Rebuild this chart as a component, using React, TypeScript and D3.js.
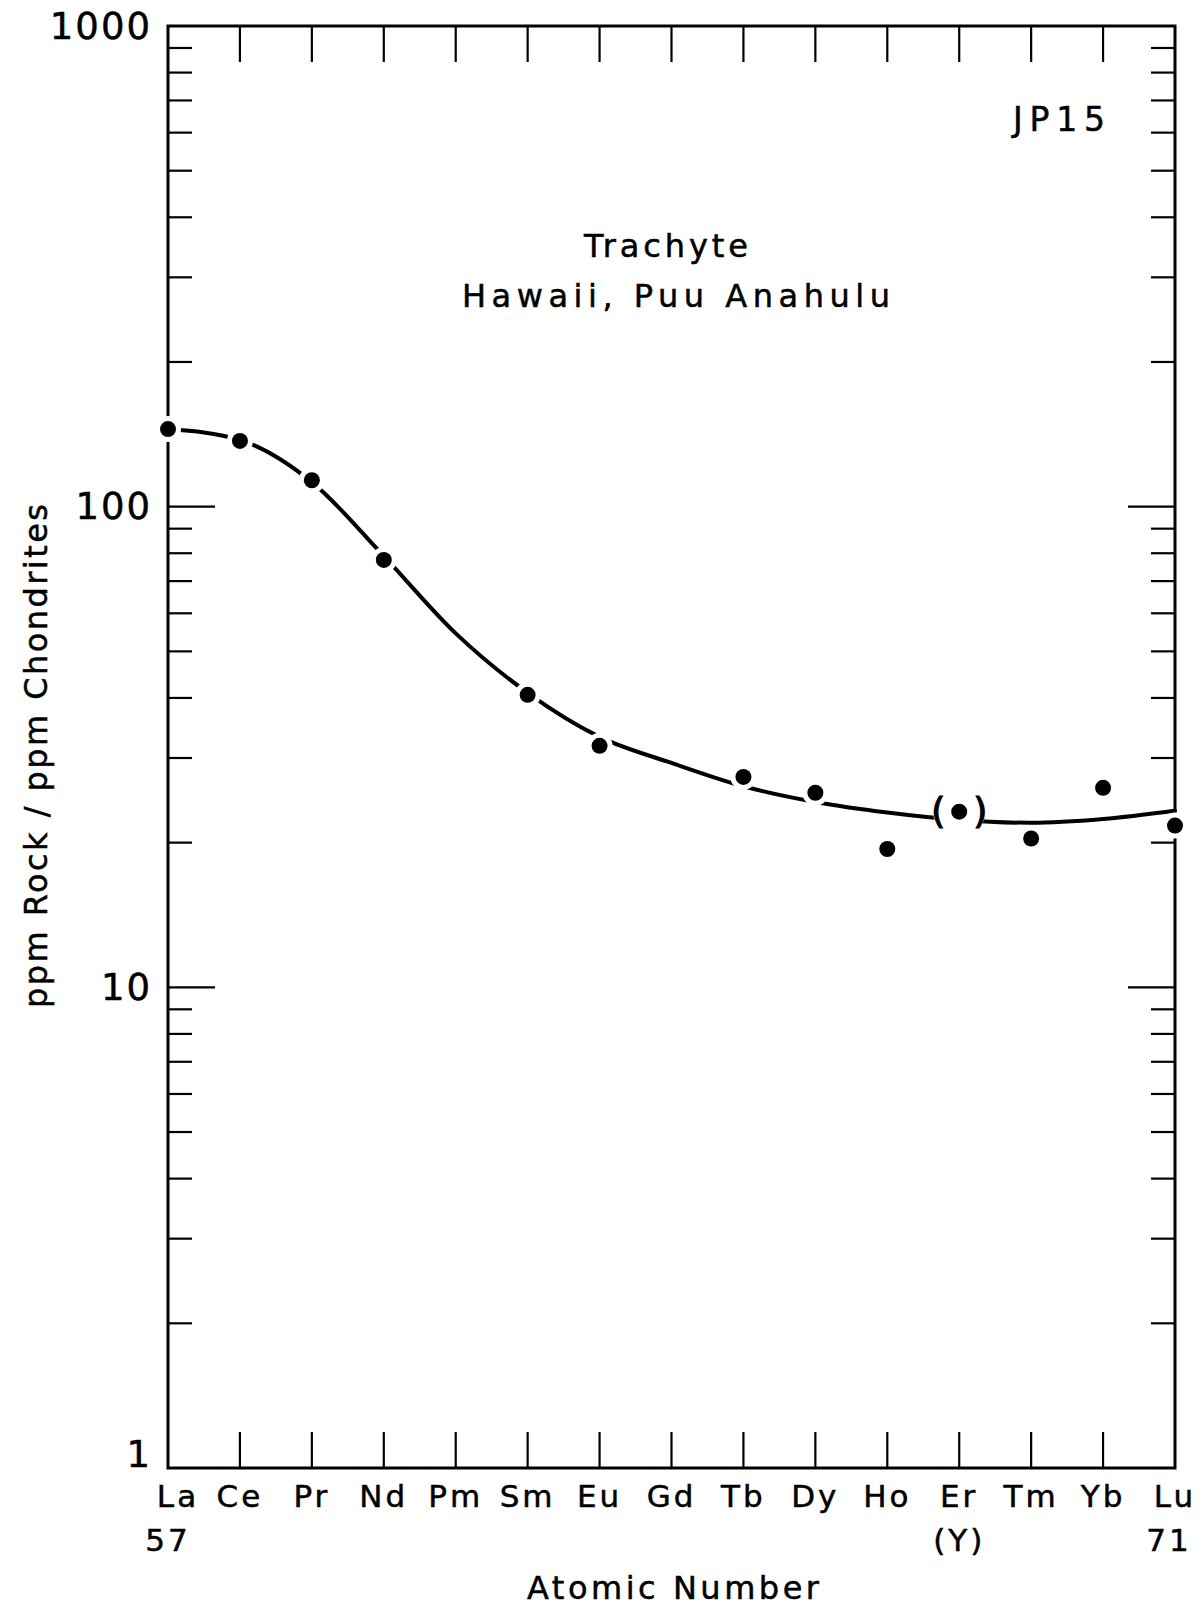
import React from "react";
import * as d3 from "d3";

const elements = ["La", "Ce", "Pr", "Nd", "Pm", "Sm", "Eu", "Gd", "Tb", "Dy", "Ho", "Er", "Tm", "Yb", "Lu"];
const atomicNumbers = [57, 58, 59, 60, 61, 62, 63, 64, 65, 66, 67, 68, 69, 70, 71];

// measured points
const pointElements = ["La", "Ce", "Pr", "Nd", "Sm", "Eu", "Tb", "Dy", "Ho", "Er", "Tm", "Yb", "Lu"];
const pointValues = [145, 137, 113.5, 77.5, 40.6, 31.8, 27.4, 25.4, 19.4, 23.2, 20.4, 26.0, 21.7];
const pointOnCurve = [true, true, true, true, true, true, true, true, false, true, false, false, true];
const bracketedPoints = ["Er"];

// smoothed curve drawn through the data
const curveValues = [145, 137.6, 112.5, 78.9, 54.5, 41.0, 33.2, 29.3, 26.2, 24.3, 23.1, 22.3, 22.0, 22.4, 23.3];

const yMajorTicks = [1, 10, 100, 1000];
const yMajorLabels = ["1", "10", "100", "1000"];
const yMinorTicks = [2, 3, 4, 5, 6, 7, 8, 9, 20, 30, 40, 50, 60, 70, 80, 90, 200, 300, 400, 500, 600, 700, 800, 900];

const subLabels = [
  { el: "La", text: "57" },
  { el: "Er", text: "(Y)" },
  { el: "Lu", text: "71" },
];

const FONT = "'DejaVu Sans', sans-serif";

export default function App() {
  const left = 168, right = 1175, top = 26, bottom = 1468;
  const x = d3.scaleLinear().domain([57, 71]).range([left, right]);
  const y = d3.scaleLog().domain([1, 1000]).range([bottom, top]);
  const xOf = (el: string) => x(atomicNumbers[elements.indexOf(el)]);

  const line = d3
    .line<number>()
    .x((_, i) => x(atomicNumbers[i]))
    .y((d) => y(d))
    .curve(d3.curveMonotoneX);

  const majorLen = 47, minorLen = 24, xTickLen = 36;
  const txt = { stroke: "#000", strokeWidth: 0.5 };

  return (
    <svg
      width={1203}
      height={1612}
      style={{ position: "absolute", left: 0, top: 0, background: "#fff" }}
      fontFamily={FONT}
    >
      <rect x={0} y={0} width={1203} height={1612} fill="#fff" />
      {/* frame */}
      <rect x={left} y={top} width={right - left} height={bottom - top} fill="none" stroke="#000" strokeWidth={3} />
      {/* y ticks */}
      {yMajorTicks.slice(1, 3).map((v) => (
        <g key={"M" + v}>
          <line x1={left} x2={left + majorLen} y1={y(v)} y2={y(v)} stroke="#000" strokeWidth={2.2} />
          <line x1={right} x2={right - majorLen} y1={y(v)} y2={y(v)} stroke="#000" strokeWidth={2.2} />
        </g>
      ))}
      {yMinorTicks.map((v) => (
        <g key={"m" + v}>
          <line x1={left} x2={left + minorLen} y1={y(v)} y2={y(v)} stroke="#000" strokeWidth={2.2} />
          <line x1={right} x2={right - minorLen} y1={y(v)} y2={y(v)} stroke="#000" strokeWidth={2.2} />
        </g>
      ))}
      {/* x ticks */}
      {atomicNumbers.slice(1, -1).map((n) => (
        <g key={"x" + n}>
          <line x1={x(n)} x2={x(n)} y1={top} y2={top + xTickLen} stroke="#000" strokeWidth={2.2} />
          <line x1={x(n)} x2={x(n)} y1={bottom} y2={bottom - xTickLen} stroke="#000" strokeWidth={2.2} />
        </g>
      ))}
      {/* y labels */}
      {yMajorTicks.map((v, i) => (
        <text
          key={"yl" + v}
          x={152}
          y={v === 1 ? y(v) - 12 : y(v) + 2}
          textAnchor="end"
          dominantBaseline="middle"
          fontSize={37}
          letterSpacing={2}
          {...txt}
        >
          {yMajorLabels[i]}
        </text>
      ))}
      {/* curve */}
      <path d={line(curveValues) || ""} fill="none" stroke="#000" strokeWidth={4} strokeLinecap="round" />
      {/* halos */}
      {pointElements.map((el, i) =>
        pointOnCurve[i] ? (
          <circle
            key={"h" + el}
            cx={xOf(el)}
            cy={y(pointValues[i])}
            r={bracketedPoints.includes(el) ? 26 : 13}
            fill="#fff"
          />
        ) : null
      )}
      {/* points */}
      {pointElements.map((el, i) => (
        <circle key={"p" + el} cx={xOf(el)} cy={y(pointValues[i])} r={8} fill="#000" />
      ))}
      {bracketedPoints.map((el) => {
        const v = pointValues[pointElements.indexOf(el)];
        return (
          <g key={"b" + el}>
            <text x={xOf(el) - 21} y={y(v) + 1} textAnchor="middle" dominantBaseline="middle" fontSize={36} {...txt} strokeWidth={1.2}>(</text>
            <text x={xOf(el) + 21} y={y(v) + 1} textAnchor="middle" dominantBaseline="middle" fontSize={36} {...txt} strokeWidth={1.2}>)</text>
          </g>
        );
      })}
      {/* x labels */}
      {elements.map((el) => (
        <text key={"xl" + el} x={xOf(el) + (el === "La" ? 10 : 0)} y={1498} textAnchor="middle" dominantBaseline="middle" fontSize={31} letterSpacing={3} {...txt}>
          {el}
        </text>
      ))}
      {subLabels.map((s) => (
        <text key={"s" + s.el} x={xOf(s.el) + (s.el === "Lu" ? -6 : 0)} y={1542} textAnchor="middle" dominantBaseline="middle" fontSize={31} letterSpacing={3} {...txt}>
          {s.text}
        </text>
      ))}
      <text x={673} y={1590} textAnchor="middle" dominantBaseline="middle" fontSize={32} textLength={292} lengthAdjust="spacing" {...txt}>
        Atomic Number
      </text>
      <text
        transform={`translate(38,756) rotate(-90)`}
        textAnchor="middle"
        dominantBaseline="middle"
        fontSize={32}
        textLength={504}
        lengthAdjust="spacing"
        {...txt}
      >
        ppm Rock / ppm Chondrites
      </text>
      <text x={1013} y={121} dominantBaseline="middle" fontSize={33} textLength={92} lengthAdjust="spacing" {...txt}>
        JP15
      </text>
      <text x={666} y={248} textAnchor="middle" dominantBaseline="middle" fontSize={32} textLength={164} lengthAdjust="spacing" {...txt}>
        Trachyte
      </text>
      <text x={676} y={298} textAnchor="middle" dominantBaseline="middle" fontSize={32} textLength={428} lengthAdjust="spacing" {...txt}>
        Hawaii, Puu  Anahulu
      </text>
    </svg>
  );
}
